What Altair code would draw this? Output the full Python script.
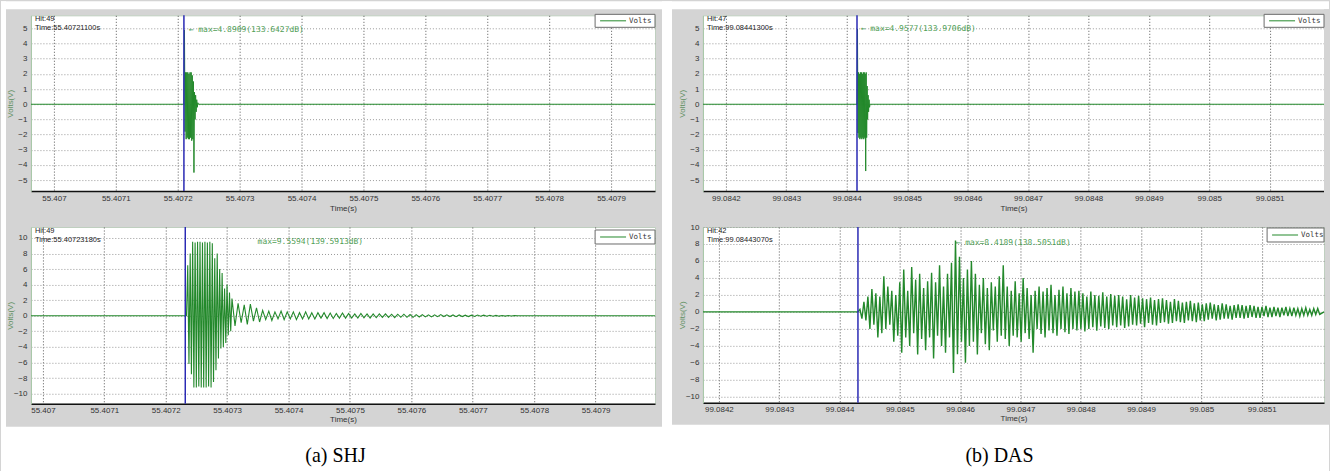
import altair as alt
import pandas as pd

GREEN = "#23892b"
TEXT_GREEN = "#4f9e55"
BLUE = "#2a2ab4"
GRAY = "#d4d4d4"

# ---------------- tick labels ----------------
SHJ_X_TICKS = [55.407, 55.4071, 55.4072, 55.4073, 55.4074, 55.4075, 55.4076, 55.4077, 55.4078, 55.4079]
DAS_X_TICKS = [99.0842, 99.0843, 99.0844, 99.0845, 99.0846, 99.0847, 99.0848, 99.0849, 99.085, 99.0851]
Y_TICKS_5 = [-5, -4, -3, -2, -1, 0, 1, 2, 3, 4, 5]
Y_TICKS_10 = [-10, -8, -6, -4, -2, 0, 2, 4, 6, 8, 10]

# ---------------- (a) SHJ, top ----------------
TL_X_DOMAIN = [55.4069629, 55.4079710]
TL_Y_DOMAIN = [-5.72, 5.86]
TL_TRIGGER = 55.40721
TL_DT = 0.9e-6
TL_VALUES = [4.89, -1.8, 2.1, -2.3, 2.1, -2.2, 2.1, -2.3, 2.0, -2.3, 2.1, -2.2, 2.1,
             -2.4, 1.9, -2.3, 1.5, -4.5, 0.8, -1.0, 0.6, -0.5, 0.3, -0.2, 0.1, 0.0]

# ---------------- (a) SHJ, bottom ----------------
BL_X_DOMAIN = [55.40698049, 55.40799675]
BL_Y_DOMAIN = [-11.3, 11.4]
BL_TRIGGER = 55.4072318
BL_BURST_DT = 2.0e-6
BL_BURST = [0.0, 6.5, -6.2, 8.0, -7.5, 9.5, -9.2, 9.4, -9.2, 9.5, -9.1, 9.5, -9.2, 9.4,
            -9.2, 9.5, -9.2, 9.4, -9.1, 9.5, -9.2, 9.3, -8.5, 7.4, -7.0, 8.0, -5.5, 6.0,
            -4.2, 5.5, -4.0, 3.5, -3.5, 4.0, -2.5, 3.0, -2.0, 2.2]
BL_TAIL_DT = 5.0e-6
BL_TAIL = [-1.3, 1.6, -0.9, 1.4, -1.1, 1.5, -0.7, 1.0, -0.8,
           0.7, -0.5, 0.6, -0.6, 0.5, -0.4, 0.6, -0.5, 0.5, -0.4, 0.5, -0.5, 0.4, -0.4,
           0.5, -0.4, 0.4, -0.4, 0.4, -0.3, 0.4, -0.35, 0.35,
           -0.35, 0.3, -0.3, 0.35, -0.3, 0.3, -0.3, 0.25, -0.3, 0.3, -0.25, 0.25, -0.3,
           0.25, -0.25, 0.25, -0.2, 0.25, -0.2, 0.2, -0.25, 0.2, -0.2, 0.2, -0.2, 0.15,
           -0.2, 0.15, -0.15,
           0.15, -0.15, 0.12, -0.15, 0.12, -0.12, 0.15, -0.1, 0.12, -0.1, 0.1, -0.12,
           0.1, -0.1, 0.08, -0.1, 0.08, -0.08, 0.1, -0.06, 0.08, -0.06, 0.06, -0.06,
           0.05, -0.05, 0.04, -0.04, 0.03, -0.03, 0.02, 0.0]

# ---------------- (b) DAS, top ----------------
TR_X_DOMAIN = [99.084162, 99.085190]
TR_Y_DOMAIN = [-5.72, 5.86]
TR_TRIGGER = 99.084417
TR_DT = 0.8e-6
TR_VALUES = [4.96, -1.9, 2.1, -2.2, 2.0, -2.3, 2.1, -2.2, 2.1, -2.3, 2.0, -2.2, 2.1,
             -2.3, 2.1, -2.2, 2.0, -4.4, 2.1, -2.2, 1.2, -1.0, 0.6, -0.5, 0.3, -0.2, 0.0]

# ---------------- (b) DAS, bottom ----------------
BR_X_DOMAIN = [99.0841736, 99.0852033]
BR_Y_DOMAIN = [-10.7, 10.0]
BR_TRIGGER = 99.0844306
BR_DT = 3.3e-6
BR_VALUES = [
    0.3, -0.8, 1.2, -1.0, 1.8,
    -2.0, 2.7, -1.5, 2.2, -3.0, 1.8, -2.5, 4.2, -2.0, 3.0, -1.5, 2.5, -3.5, 2.0, -2.8,
    3.5, -4.8, 5.0, -3.0, 2.5, -4.0, 5.3, -2.5, 3.8, -5.0, 4.5, -3.2, 2.8, -4.5, 3.6,
    -3.0, 4.6, -5.5, 3.5, -2.8, 5.5, -4.0, 3.0, -4.8, 4.5, -3.0, 5.8, -7.2, 8.4, -5.0,
    6.5, -3.5, 4.0, -6.0, 5.0, -4.0, 6.0, -3.5, 4.5, -5.0, 3.2, -2.5, 4.0, -3.8, 2.8,
    -4.5, 3.5, -2.2, 3.0, -3.5,
    4.2, -2.8, 5.5, -3.2, 3.0, -4.0, 2.5, -2.8, 3.6, -3.0, 2.2, -3.5, 4.0, -2.5, 2.8,
    -3.2, 2.0, -4.8, 2.5, -2.0,
    3.0, -2.6, 2.4, -3.0, 2.8, -2.2, 3.2, -2.5, 2.0, -2.8, 2.6, -2.0, 3.0, -2.4, 2.2,
    -2.6, 2.8, -2.0, 2.4, -2.2,
    2.5, -2.0, 2.2, -2.3, 1.8, -2.0, 2.4, -1.8, 2.0, -2.2, 1.9, -1.7, 2.3, -1.9, 1.8,
    -2.0, 2.1, -1.6, 1.9, -1.8,
    2.0, -1.6, 1.8, -1.9, 1.5, -1.7, 2.0, -1.5, 1.7, -1.6, 1.9, -1.4, 1.6, -1.8, 1.5,
    -1.3, 1.7, -1.5, 1.4, -1.6,
    1.5, -1.3, 1.6, -1.2, 1.4, -1.4, 1.2, -1.3, 1.5, -1.1, 1.3, -1.2, 1.1, -1.3, 1.2,
    -1.0, 1.3, -1.1, 1.0, -1.2,
    1.1, -1.0, 0.9, -1.1, 1.0, -0.9, 1.1, -0.8, 0.9, -1.0, 0.8, -0.9, 1.0, -0.8, 0.9,
    -0.8, 0.7, -0.9, 0.8, -0.7, 0.9, -0.7, 0.8, -0.8, 0.7, -0.7, 0.8, -0.6, 0.7, -0.7,
    0.6, -0.7, 0.6, -0.5, 0.7, -0.6, 0.5, -0.6, 0.6, -0.5, 0.5, -0.6, 0.5, -0.4, 0.6,
    -0.5, 0.4, -0.5, 0.5, -0.4, 0.4, -0.5, 0.4, -0.4, 0.5, -0.4, 0.3, -0.4, 0.4, -0.3,
    0.4, -0.3]

ONE = pd.DataFrame({"k": [0]})


def make_signal(x_domain, trigger, segments):
    ts = [x_domain[0], trigger]
    vs = [0.0, 0.0]
    t = trigger
    for dt, values in segments:
        for v in values:
            t = t + dt
            ts.append(t)
            vs.append(v)
    ts.append(x_domain[1])
    vs.append(0.0)
    return pd.DataFrame({"t": ts, "v": vs})


def rect(x1, x2, y1, y2, fill, stroke=None):
    if stroke:
        m = alt.Chart(ONE).mark_rect(fill=fill, stroke=stroke, strokeWidth=1)
    else:
        m = alt.Chart(ONE).mark_rect(fill=fill)
    return m.encode(x=alt.value(x1), x2=alt.value(x2), y=alt.value(y1), y2=alt.value(y2))


def label(x, y, text, size, color, font="Liberation Sans", align="left"):
    return alt.Chart(ONE).mark_text(
        align=align, baseline="middle", fontSize=size, color=color, font=font
    ).encode(x=alt.value(x), y=alt.value(y), text=alt.value(text))


def legend(x1, x2, y1, y2):
    ym = (y1 + y2) / 2
    box = rect(x1, x2, y1, y2, "white", "#6a6a6a")
    ln = alt.Chart(ONE).mark_rule(color=GREEN, strokeWidth=1).encode(
        x=alt.value(x1 + 5), x2=alt.value(x1 + 31), y=alt.value(ym))
    tx = label(x1 + 34, ym, "Volts", 7.5, "#333", font="DejaVu Sans Mono")
    return [box, ln, tx]


def panel(sig, x_domain, x_ticks, y_domain, y_ticks, trigger, w, h,
          hit, time_txt, max_txt, max_xy, legend_box, decor, title_y, line_w=1.0):
    X = alt.X("t:Q", scale=alt.Scale(domain=x_domain, nice=False, zero=False),
              axis=alt.Axis(values=x_ticks, format=".7~f", title="Time(s)",
                            titleFontSize=8, titleFontWeight="normal", titleColor="#333",
                            titleY=title_y, titleBaseline="middle",
                            labelFontSize=8, labelColor="#333", labelPadding=3,
                            labelOverlap=False, labelFlush=False,
                            ticks=False, domainColor="#111", domainWidth=1.5,
                            grid=True, gridColor="#555", gridDash=[1, 2], gridWidth=1))
    Y = alt.Y("v:Q", scale=alt.Scale(domain=y_domain, nice=False, zero=False),
              axis=alt.Axis(values=y_ticks, format="d", title="Volts(V)",
                            titleX=-20, titleY=h / 2, titleAlign="center",
                            titleBaseline="middle", titleColor="#5f8f5f",
                            titleFontSize=8, titleFontWeight="normal",
                            labelFontSize=8, labelColor="#333", labelPadding=4,
                            labelOverlap=False, labelFlush=False,
                            ticks=False, domainColor="#a8c8a8",
                            grid=True, gridColor="#999", gridDash=[1, 2], gridWidth=1))
    line = alt.Chart(sig).mark_line(color=GREEN, strokeWidth=line_w, clip=True).encode(x=X, y=Y)
    rule = alt.Chart(pd.DataFrame({"t": [trigger]})).mark_rule(
        color=BLUE, strokeWidth=1.5).encode(x=X)
    texts = [
        label(4, 4, hit, 7.5, "#222"),
        label(4, 13, time_txt, 7.5, "#222"),
        label(max_xy[0], max_xy[1], max_txt, 8, TEXT_GREEN, font="DejaVu Sans Mono"),
    ]
    layers = decor + [line, rule] + texts + legend(*legend_box)
    return alt.layer(*layers).properties(width=w, height=h)


tl_sig = make_signal(TL_X_DOMAIN, TL_TRIGGER, [(TL_DT, TL_VALUES)])
bl_sig = make_signal(BL_X_DOMAIN, BL_TRIGGER, [(BL_BURST_DT, BL_BURST), (BL_TAIL_DT, BL_TAIL)])
tr_sig = make_signal(TR_X_DOMAIN, TR_TRIGGER, [(TR_DT, TR_VALUES)])
br_sig = make_signal(BR_X_DOMAIN, BR_TRIGGER, [(BR_DT, BR_VALUES)])

W_L, W_R = 625, 622
H_TOP, H_BL, H_BR = 176, 177, 176

tl = panel(tl_sig, TL_X_DOMAIN, SHJ_X_TICKS, TL_Y_DOMAIN, Y_TICKS_5, TL_TRIGGER, W_L, H_TOP,
           "Hit:49", "Time:55.40721100s", "\u2190 max=4.8909(133.6427dB)", (158, 15),
           (565, 625, -1, 12),
           [rect(-30, 637, -14, -6, "white"), rect(-30, -25, -14, 457, "white"),
            rect(632, 637, -14, 457, "white")], 17)

tr = panel(tr_sig, TR_X_DOMAIN, DAS_X_TICKS, TR_Y_DOMAIN, Y_TICKS_5, TR_TRIGGER, W_R, H_TOP,
           "Hit:47", "Time:99.08441300s", "\u2190 max=4.9577(133.9706dB)", (158, 14),
           (562, 622, -1, 12),
           [rect(-36, 627, -14, -6, "white"), rect(-36, -31, -14, 457, "white"),
            rect(622, 627, -6, 410, GRAY)], 17)

bl = panel(bl_sig, BL_X_DOMAIN, SHJ_X_TICKS, BL_Y_DOMAIN, Y_TICKS_10, BL_TRIGGER, W_L, H_BL,
           "Hit:49", "Time:55.40723180s", "max=9.5594(139.5913dB)", (227, 15),
           (565, 625, 3, 17),
           [rect(-30, 637, 200, 245, "white"),
            label(305, 229, "(a) SHJ", 20, "black", font="Liberation Serif", align="center")], 16,
           1.1)

br = panel(br_sig, BR_X_DOMAIN, DAS_X_TICKS, BR_Y_DOMAIN, Y_TICKS_10, BR_TRIGGER, W_R, H_BR,
           "Hit:42", "Time:99.08443070s", "\u2190 max=8.4189(138.5051dB)", (253, 16),
           (565, 622, 1, 15),
           [rect(-36, 627, 198, 245, "white"),
            label(297, 229, "(b) DAS", 20, "black", font="Liberation Serif", align="center")], 16,
           1.4)

chart = alt.concat(tl, tr, bl, br, columns=2, spacing={"row": 36, "column": 48},
                   bounds="flush").properties(padding=0).configure(
    background=GRAY).configure_view(fill="white", stroke="#bfcfbf", strokeWidth=1).configure_axis(
    labelFont="Liberation Sans", titleFont="Liberation Sans")

chart.save("out.html", embed_options={"renderer": "svg", "actions": False})
